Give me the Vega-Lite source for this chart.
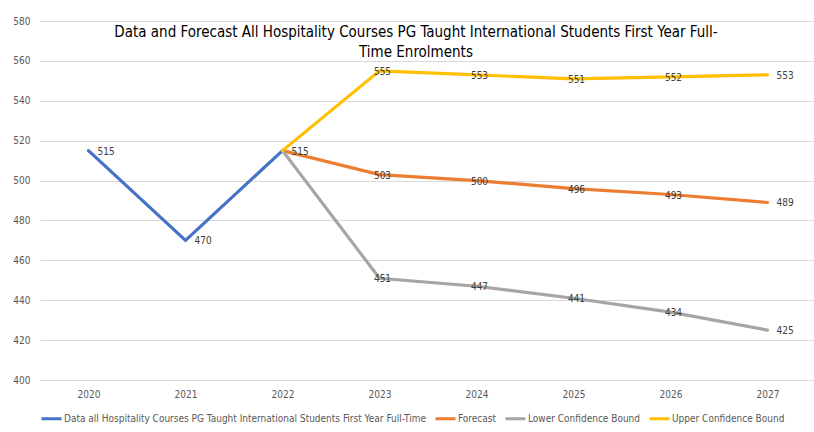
{
  "$schema": "https://vega.github.io/schema/vega-lite/v6.json",
  "width": 776,
  "height": 359,
  "autosize": "none",
  "padding": {"left": 40, "top": 21, "right": 0, "bottom": 52},
  "background": "white",
  "config": {
    "font": "Liberation Sans Narrow, DejaVu Sans Condensed, Liberation Sans",
    "view": {"stroke": null}
  },
  "title": {
    "text": ["Data and Forecast All Hospitality Courses PG Taught International  Students First Year Full-", "Time Enrolments"],
    "anchor": "middle",
    "frame": "group",
    "offset": -44,
    "dx": -12,
    "fontSize": 15,
    "fontWeight": "normal",
    "color": "#000000",
    "lineHeight": 20
  },
  "data": {
    "values": [
      {"year": "2020", "series": "Data all Hospitality Courses PG Taught International Students First Year Full-Time", "value": 515},
      {"year": "2021", "series": "Data all Hospitality Courses PG Taught International Students First Year Full-Time", "value": 470},
      {"year": "2022", "series": "Data all Hospitality Courses PG Taught International Students First Year Full-Time", "value": 515},
      {"year": "2022", "series": "Forecast", "value": 515},
      {"year": "2023", "series": "Forecast", "value": 503},
      {"year": "2024", "series": "Forecast", "value": 500},
      {"year": "2025", "series": "Forecast", "value": 496},
      {"year": "2026", "series": "Forecast", "value": 493},
      {"year": "2027", "series": "Forecast", "value": 489},
      {"year": "2022", "series": "Lower Confidence Bound", "value": 515},
      {"year": "2023", "series": "Lower Confidence Bound", "value": 451},
      {"year": "2024", "series": "Lower Confidence Bound", "value": 447},
      {"year": "2025", "series": "Lower Confidence Bound", "value": 441},
      {"year": "2026", "series": "Lower Confidence Bound", "value": 434},
      {"year": "2027", "series": "Lower Confidence Bound", "value": 425},
      {"year": "2022", "series": "Upper Confidence Bound", "value": 515},
      {"year": "2023", "series": "Upper Confidence Bound", "value": 555},
      {"year": "2024", "series": "Upper Confidence Bound", "value": 553},
      {"year": "2025", "series": "Upper Confidence Bound", "value": 551},
      {"year": "2026", "series": "Upper Confidence Bound", "value": 552},
      {"year": "2027", "series": "Upper Confidence Bound", "value": 553}
    ]
  },
  "encoding": {
    "x": {
      "field": "year", "type": "ordinal",
      "scale": {"type": "point", "padding": 0.5},
      "axis": {"title": null, "labelAngle": 0, "labelColor": "#595959", "labelFontSize": 10, "ticks": false, "domainColor": "#d9d9d9", "labelPadding": 9, "grid": false}
    },
    "y": {
      "field": "value", "type": "quantitative",
      "scale": {"domain": [400, 580], "nice": false, "zero": false},
      "axis": {"title": null, "values": [400, 420, 440, 460, 480, 500, 520, 540, 560, 580], "labelColor": "#595959", "labelFontSize": 10, "ticks": false, "domain": false, "gridColor": "#d9d9d9", "labelPadding": 10}
    }
  },
  "layer": [
    {
      "mark": {"type": "line", "strokeWidth": 3.2, "strokeCap": "round"},
      "encoding": {
        "color": {
          "field": "series", "type": "nominal",
          "scale": {
            "domain": ["Data all Hospitality Courses PG Taught International Students First Year Full-Time", "Forecast", "Lower Confidence Bound", "Upper Confidence Bound"],
            "range": ["#4472C4", "#ED7D31", "#A5A5A5", "#FFC000"]
          },
          "legend": {
            "title": null, "orient": "bottom", "direction": "horizontal",
            "symbolType": "stroke", "symbolStrokeWidth": 3, "symbolSize": 400,
            "labelFontSize": 10, "labelColor": "#595959", "labelLimit": 500,
            "columnPadding": 2, "symbolOffset": 0, "offset": 8, "labelOffset": 1
          }
        }
      }
    },
    {
      "transform": [{"filter": "datum.series != 'Data all Hospitality Courses PG Taught International Students First Year Full-Time' && datum.year != '2022' && datum.year != '2027'"}],
      "mark": {"type": "text", "fontSize": 10, "color": "#404040", "align": "center", "baseline": "middle", "dx": 3, "dy": 1},
      "encoding": {"text": {"field": "value", "type": "quantitative"}}
    },
    {
      "transform": [{"filter": "datum.series == 'Data all Hospitality Courses PG Taught International Students First Year Full-Time' || datum.year == '2027'"}],
      "mark": {"type": "text", "fontSize": 10, "color": "#404040", "align": "left", "baseline": "middle", "dx": 9, "dy": 1},
      "encoding": {"text": {"field": "value", "type": "quantitative"}}
    }
  ]
}
